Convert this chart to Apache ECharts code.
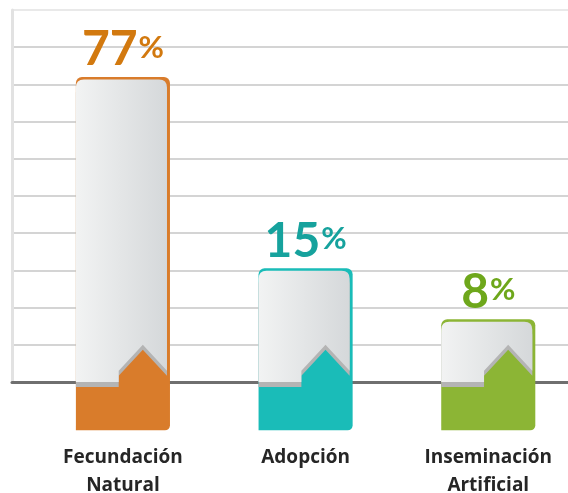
<!DOCTYPE html>
<html>
<head>
<meta charset="utf-8">
<script src="https://cdn.jsdelivr.net/npm/echarts@6/dist/echarts.min.js"></script>
<style>
  html, body { margin: 0; padding: 0; background: #fff; }
  #chart { width: 568px; height: 493px; }
</style>
</head>
<body>
<div id="chart"></div>
<script>
const categories = ['Fecundación\nNatural', 'Adopción', 'Inseminación\nArtificial'];
const percents = [77, 15, 8];
// bar tops, in grid rows (10 rows above the base line)
const barHeights = [8.2, 3.06, 1.69];
const barColors = ['#d97c2b', '#1abcb8', '#8cb535'];
const labelColors = ['#d2790f', '#16a29d', '#6ea71b'];

const FONT = 'Lato, "Open Sans", sans-serif';
const LABEL_FONT = '"Open Sans", Lato, sans-serif';

const chart = echarts.init(document.getElementById('chart'), null, { renderer: 'canvas' });

function renderItem(params, api) {
  const i = params.dataIndex;
  const base = api.coord([api.value(0), 0]);
  const top = api.coord([api.value(0), api.value(1)])[1];
  const floor = api.coord([api.value(0), -1.3])[1];
  const peakY = api.coord([api.value(0), 1])[1];
  const stepY = api.coord([api.value(0), 0.3])[1];
  const bw = api.size([1, 0])[0] * 0.515;
  const cx = base[0];
  const x0 = cx - bw / 2;
  // white card sits a little inside the coloured bar
  const cR = x0 + bw - 3;
  const cT = top + 2.5;
  const r = 8;
  const w = cR - x0;
  const sx = x0 + w * 0.47;
  const px = x0 + w * 0.735;
  const by = base[1];
  const d = 'M' + x0 + ' ' + by +
    ' L' + x0 + ' ' + (cT + r) +
    ' Q' + x0 + ' ' + cT + ' ' + (x0 + r) + ' ' + cT +
    ' L' + (cR - r) + ' ' + cT +
    ' Q' + cR + ' ' + cT + ' ' + cR + ' ' + (cT + r) +
    ' L' + cR + ' ' + stepY +
    ' L' + px + ' ' + peakY +
    ' L' + sx + ' ' + stepY +
    ' L' + sx + ' ' + by + ' Z';

  return {
    type: 'group',
    children: [
      {
        type: 'rect',
        shape: { x: x0, y: top, width: bw, height: floor - top, r: [6, 6, 5, 0] },
        style: { fill: barColors[i] }
      },
      {
        type: 'path',
        shape: { pathData: d },
        style: {
          fill: new echarts.graphic.LinearGradient(0, 0, 1, 0, [
            { offset: 0, color: '#f2f3f3' },
            { offset: 1, color: '#d5d8da' }
          ]),
          shadowColor: '#b4b4b4',
          shadowOffsetY: 5,
          shadowBlur: 0
        }
      },
      {
        type: 'text',
        x: cx,
        y: top - 3,
        style: {
          text: '{n|' + api.value(2) + '}{p|%}',
          align: 'center',
          verticalAlign: 'bottom',
          rich: {
            n: { fontSize: 48, fontWeight: 'bold', fontFamily: FONT, fill: labelColors[i], color: labelColors[i] },
            p: { fontSize: 31, fontWeight: 'bold', fontFamily: FONT, fill: labelColors[i], color: labelColors[i], padding: [0, 0, 4, 1] }
          }
        }
      }
    ]
  };
}

const splitColors = [];
for (let k = 0; k < 10; k++) splitColors.push('#c6c6c6');
splitColors.push('#e2e2e2');

const option = {
  backgroundColor: '#ffffff',
  animation: false,
  grid: [
    { left: 12, right: 0, top: 10, bottom: 111, outerBoundsMode: 'none' },
    { left: 31.6, width: 548, top: 10, bottom: 111, outerBoundsMode: 'none' }
  ],
  xAxis: [
    {
      gridIndex: 0,
      type: 'value',
      min: 0,
      max: 1,
      axisLine: { show: true, lineStyle: { color: '#6f6f6f', width: 3 } },
      axisTick: { show: false },
      axisLabel: { show: false },
      splitLine: { show: false }
    },
    {
      gridIndex: 1,
      type: 'category',
      data: categories,
      axisLine: { show: false },
      axisTick: { show: false },
      axisLabel: {
        margin: 62,
        verticalAlign: 'top',
        fontSize: 19,
        lineHeight: 28,
        fontWeight: 'bold',
        fontFamily: LABEL_FONT,
        color: '#262626'
      }
    }
  ],
  yAxis: [
    {
      gridIndex: 0,
      type: 'value',
      min: 0,
      max: 10,
      interval: 1,
      axisLine: { show: true, lineStyle: { color: '#e2e2e2', width: 3 } },
      axisTick: { show: false },
      axisLabel: { show: false },
      splitLine: { show: true, lineStyle: { color: splitColors, width: 1.5 } }
    },
    { gridIndex: 1, type: 'value', min: 0, max: 10, show: false }
  ],
  series: [{
    type: 'custom',
    xAxisIndex: 1,
    yAxisIndex: 1,
    clip: false,
    renderItem: renderItem,
    data: categories.map(function (c, i) { return [i, barHeights[i], percents[i]]; }),
    z: 5
  }]
};

chart.setOption(option);
</script>
</body>
</html>
